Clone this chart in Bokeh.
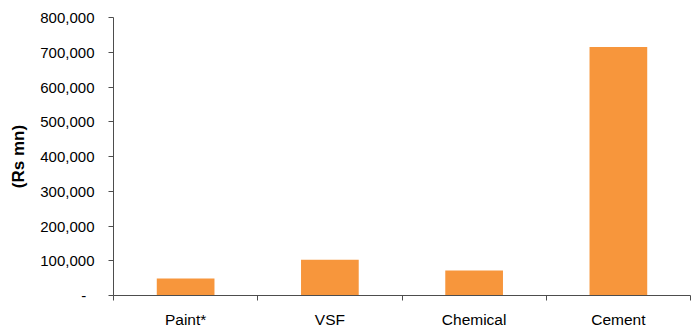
from bokeh.plotting import figure
from bokeh.models import Range1d, FixedTicker, NumeralTickFormatter
from bokeh.embed import file_html
from bokeh.resources import INLINE

# Installed base by segment (Rs mn)
categories = ["Paint*", "VSF", "Chemical", "Cement"]
values = [49000, 103000, 72000, 715000]
y_ticks = [0, 100000, 200000, 300000, 400000, 500000, 600000, 700000, 800000]

BAR_COLOR = "#F7963C"
AXIS_COLOR = "#4D4D4D"
FONT = "Liberation Sans"

# each category occupies one unit slot; bars sit in the middle of their slot
centers = [i + 0.5 for i in range(len(categories))]
bounds = [float(i) for i in range(len(categories) + 1)]

p = figure(
    width=697, height=330,
    output_backend="svg", toolbar_location=None,
    x_range=Range1d(0, len(categories)),
    y_range=Range1d(0, y_ticks[-1]),
    min_border_left=113, min_border_right=7,
    min_border_top=17, min_border_bottom=33,
)
p.outline_line_color = None
p.xgrid.visible = False
p.ygrid.visible = False

p.vbar(x=centers, top=values, width=0.4, bottom=0,
       fill_color=BAR_COLOR, line_color=None)

# x axis: labels centered in each slot, ticks on the slot boundaries
xa = p.xaxis[0]
xa.ticker = FixedTicker(ticks=centers, minor_ticks=bounds)
xa.major_label_overrides = {c: name for c, name in zip(centers, categories)}
xa.major_tick_line_color = None
xa.minor_tick_in = 0
xa.minor_tick_out = 5
xa.minor_tick_line_color = AXIS_COLOR
xa.axis_line_color = AXIS_COLOR
xa.major_label_text_font = FONT
xa.major_label_text_font_size = "15.5px"
xa.major_label_text_color = "#000000"
xa.major_label_standoff = 9

# y axis
ya = p.yaxis[0]
ya.ticker = FixedTicker(ticks=y_ticks, minor_ticks=[])
ya.formatter = NumeralTickFormatter(format="0,0")
ya.major_label_overrides = {0: "-\u00a0\u00a0"}
ya.major_tick_in = 0
ya.major_tick_out = 5
ya.major_tick_line_color = AXIS_COLOR
ya.minor_tick_line_color = None
ya.axis_line_color = AXIS_COLOR
ya.major_label_text_font = FONT
ya.major_label_text_font_size = "15px"
ya.major_label_text_color = "#000000"
ya.major_label_standoff = 14
ya.axis_label = "(Rs mn)"
ya.axis_label_text_font = FONT
ya.axis_label_text_font_style = "bold"
ya.axis_label_text_font_size = "17px"
ya.axis_label_text_color = "#000000"
ya.axis_label_standoff = 9

open("out.html", "w").write(file_html(p, INLINE))
